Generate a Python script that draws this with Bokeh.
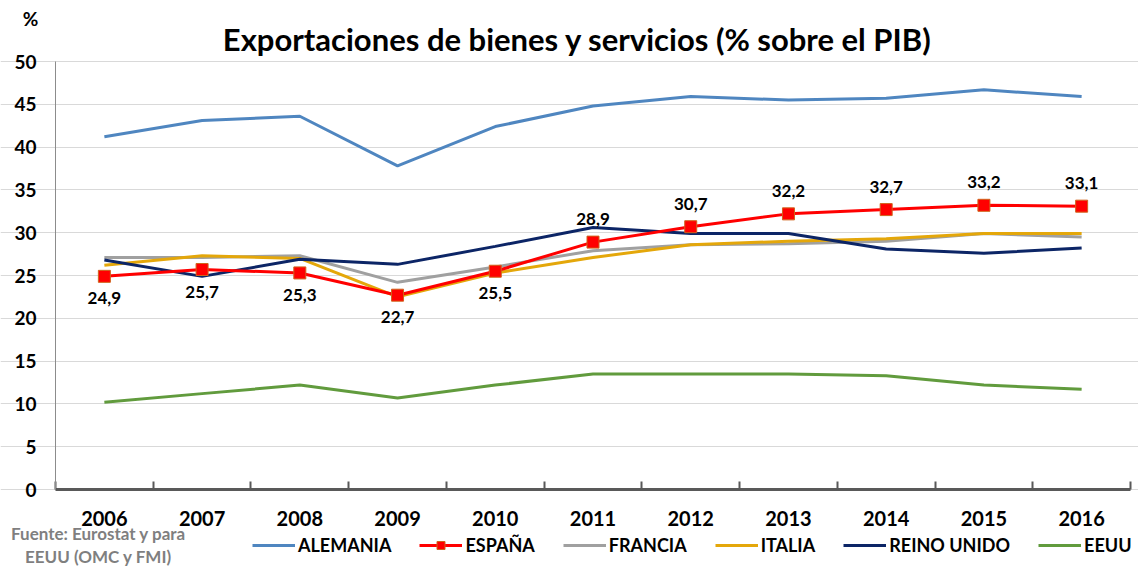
from bokeh.plotting import figure
from bokeh.models import (ColumnDataSource, Legend, LegendItem, Label, LabelSet,
                          FixedTicker, Range1d)
from bokeh.core.properties import value
from bokeh.embed import file_html
from bokeh.resources import INLINE

years = [2006, 2007, 2008, 2009, 2010, 2011, 2012, 2013, 2014, 2015, 2016]
alemania = [41.2, 43.1, 43.6, 37.8, 42.4, 44.8, 45.9, 45.5, 45.7, 46.7, 45.9]
espana = [24.9, 25.7, 25.3, 22.7, 25.5, 28.9, 30.7, 32.2, 32.7, 33.2, 33.1]
francia = [27.1, 27.1, 27.3, 24.2, 26.0, 27.9, 28.6, 28.7, 29.0, 29.9, 29.5]
italia = [26.2, 27.3, 27.0, 22.5, 25.3, 27.1, 28.6, 29.0, 29.3, 29.9, 29.9]
reino_unido = [26.8, 24.9, 26.9, 26.3, 28.4, 30.6, 29.9, 29.9, 28.1, 27.6, 28.2]
eeuu = [10.2, 11.2, 12.2, 10.7, 12.2, 13.5, 13.5, 13.5, 13.3, 12.2, 11.7]
espana_labels = ["24,9", "25,7", "25,3", "22,7", "25,5", "28,9", "30,7", "32,2", "32,7", "33,2", "33,1"]
y_ticks = [0, 5, 10, 15, 20, 25, 30, 35, 40, 45, 50]

FONT = "Lato"

# canvas / plot-area geometry in pixels
CW, CH = 1138, 566
PX_L, PX_R, PX_T, PX_B = 55, 1130, 61, 489
Y0, Y1 = 0, 50
X0, X1 = years[0] - 0.5, years[-1] + 0.5
kx = (PX_R - PX_L) / (X1 - X0)
ky = (PX_B - PX_T) / (Y1 - Y0)
xr = Range1d(X0 - PX_L / kx, X1 + (CW - PX_R) / kx)
yr = Range1d(Y0 - (CH - PX_B) / ky, Y1 + PX_T / ky)


def px_x(px):
    return xr.start + px / kx


def px_y(py):
    return yr.end - py / ky


p = figure(width=CW, height=CH, output_backend="svg", toolbar_location=None,
           x_range=xr, y_range=yr,
           min_border_left=0, min_border_right=0, min_border_top=0, min_border_bottom=0)
p.outline_line_color = None
p.background_fill_color = "white"

# axes placed at fixed data locations inside the frame
p.xaxis.fixed_location = Y0
p.xaxis.bounds = (X0, X1)
p.xaxis.ticker = FixedTicker(ticks=years, minor_ticks=[y - 0.5 for y in years] + [X1])
p.xaxis.major_tick_line_color = None
p.xaxis.minor_tick_in = 8
p.xaxis.minor_tick_out = 0
p.xaxis.minor_tick_line_color = "#595959"
p.xaxis.minor_tick_line_width = 2
p.xaxis.axis_line_color = "#595959"
p.xaxis.axis_line_width = 3
p.xaxis.major_label_text_font = FONT
p.xaxis.major_label_text_font_style = "bold"
p.xaxis.major_label_text_font_size = "20px"
p.xaxis.major_label_text_color = "black"
p.xaxis.major_label_standoff = 15

p.yaxis.fixed_location = X0
p.yaxis.bounds = (Y0, Y1)
p.yaxis.ticker = FixedTicker(ticks=y_ticks)
p.yaxis.major_tick_line_color = None
p.yaxis.minor_tick_line_color = None
p.yaxis.axis_line_color = "#8c8c8c"
p.yaxis.axis_line_width = 1
p.yaxis.major_label_text_font = FONT
p.yaxis.major_label_text_font_style = "bold"
p.yaxis.major_label_text_font_size = "19px"
p.yaxis.major_label_text_color = "black"
p.yaxis.major_label_standoff = 13

p.xgrid.grid_line_color = None
p.ygrid.grid_line_color = "#d9d9d9"
p.ygrid.grid_line_width = 1
p.ygrid.bounds = (X0, X1)

src = ColumnDataSource(dict(x=years, alemania=alemania, espana=espana, francia=francia,
                            italia=italia, reino_unido=reino_unido, eeuu=eeuu,
                            lab=espana_labels,
                            dy=[-22 if i < 5 else 23 for i in range(len(years))]))

W = 3
r_al = p.line("x", "alemania", source=src, line_color="#4f86c0", line_width=W)
r_eeuu = p.line("x", "eeuu", source=src, line_color="#619b3d", line_width=W)
r_fr = p.line("x", "francia", source=src, line_color="#a0a0a0", line_width=W)
r_it = p.line("x", "italia", source=src, line_color="#e4a70a", line_width=W)
r_ru = p.line("x", "reino_unido", source=src, line_color="#0c2566", line_width=W)
r_es = p.line("x", "espana", source=src, line_color="#ff0000", line_width=W)
r_es_m = p.scatter("x", "espana", source=src, marker="square", size=12,
                   fill_color="#ff0000", line_color="#d0641c", line_width=1)

labels = LabelSet(x="x", y="espana", text="lab", source=src, y_offset="dy",
                  text_align="center", text_baseline="middle",
                  text_font=value(FONT), text_font_style="bold", text_font_size="17px",
                  text_color="black")
p.add_layout(labels)

legend = Legend(items=[
    LegendItem(label="ALEMANIA", renderers=[r_al]),
    LegendItem(label="ESPAÑA", renderers=[r_es, r_es_m]),
    LegendItem(label="FRANCIA", renderers=[r_fr]),
    LegendItem(label="ITALIA", renderers=[r_it]),
    LegendItem(label="REINO UNIDO", renderers=[r_ru]),
    LegendItem(label="EEUU", renderers=[r_eeuu]),
], orientation="horizontal", location=(252, 10))
legend.label_text_font = FONT
legend.label_text_font_style = "bold"
legend.label_text_font_size = "18px"
legend.label_text_color = "black"
legend.glyph_width = 43
legend.glyph_height = 20
legend.label_height = 20
legend.label_standoff = 3
legend.spacing = 28
legend.padding = 0
legend.margin = 0
legend.border_line_color = None
legend.background_fill_alpha = 0
p.add_layout(legend, "center")

p.add_layout(Label(x=px_x(577), y=px_y(38), text="Exportaciones de bienes y servicios (% sobre el PIB)",
                   text_align="center", text_baseline="middle", text_font=FONT,
                   text_font_style="bold", text_font_size="31px", text_color="black"))
p.add_layout(Label(x=px_x(30), y=px_y(18), text="%", text_align="center",
                   text_baseline="middle", text_font=FONT, text_font_style="bold",
                   text_font_size="19px", text_color="black"))
p.add_layout(Label(x=px_x(98), y=px_y(533), text="Fuente: Eurostat y para",
                   text_align="center", text_baseline="middle", text_font=FONT,
                   text_font_style="bold", text_font_size="17px", text_color="#7f7f7f"))
p.add_layout(Label(x=px_x(98), y=px_y(556), text="EEUU (OMC y FMI)",
                   text_align="center", text_baseline="middle", text_font=FONT,
                   text_font_style="bold", text_font_size="17px", text_color="#7f7f7f"))

open("out.html", "w").write(file_html(p, INLINE))
